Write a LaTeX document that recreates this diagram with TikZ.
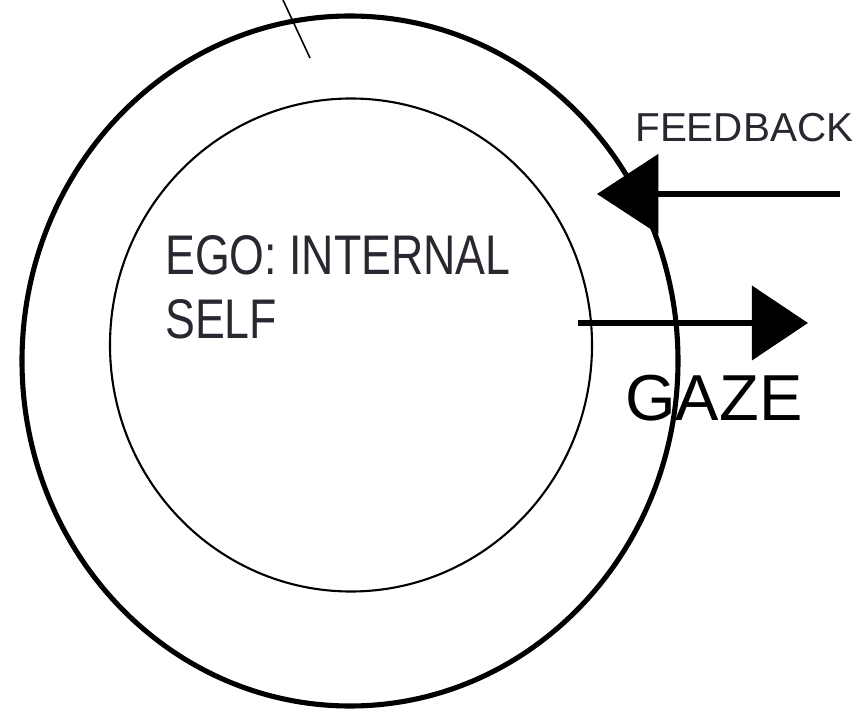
\documentclass[tikz,border=0pt]{standalone}
\usepackage{fontspec}
\usetikzlibrary{arrows.meta,shapes.geometric}
\newfontfamily\egofont[FakeStretch=0.8]{Liberation Sans}
\newfontfamily\fbfont{Liberation Sans}
\definecolor{txtgray}{HTML}{2B2630}
\tikzset{
  ring/.style={draw=black, ellipse, inner sep=0pt},
  outerring/.style={ring, line width=2.9pt},
  innerring/.style={ring, line width=1.2pt},
  tickline/.style={draw=black, line width=0.9pt},
  bigarrow/.style={draw=black, line width=3.2pt},
  egotext/.style={inner sep=0pt, anchor=base west, text=txtgray, font=\egofont\fontsize{31.8}{36}\selectfont},
  fbtext/.style={inner sep=0pt, anchor=base west, text=txtgray, font=\fbfont\fontsize{23}{26}\selectfont},
  gazetext/.style={inner sep=0pt, anchor=base west, text=black, font=\fbfont\fontsize{37}{40}\selectfont},
}
\begin{document}
\begin{tikzpicture}[x=0.02cm,y=-0.02cm]
\useasboundingbox (0,0) rectangle (856,713);
\node[outerring, minimum width=656*0.02cm, minimum height=690*0.02cm] (outer) at (350,361) {};
\node[innerring, minimum width=482*0.02cm, minimum height=493*0.02cm] (inner) at (351,345) {};
\coordinate (t1) at (283,0);
\coordinate (t2) at (310,58);
\draw[tickline] (t1) -- (t2);
\coordinate (fbstart) at (840,194);
\coordinate (fbtip) at (597,194);
\draw[bigarrow, -{Triangle[length=35pt,width=45pt]}] (fbstart) -- (fbtip);
\coordinate (gzstart) at (578,323);
\coordinate (gztip) at (808,323);
\draw[bigarrow, -{Triangle[length=32pt,width=42pt]}] (gzstart) -- (gztip);
\node[egotext] (ego) at (165,275) {EGO: INTERNAL};
\node[egotext] (self) at (165,338) {SELF};
\node[fbtext] (feedback) at (635,142) {FEEDBACK};
\node[gazetext] (gaze) at (625,420) {GAZE};
\end{tikzpicture}
\end{document}
